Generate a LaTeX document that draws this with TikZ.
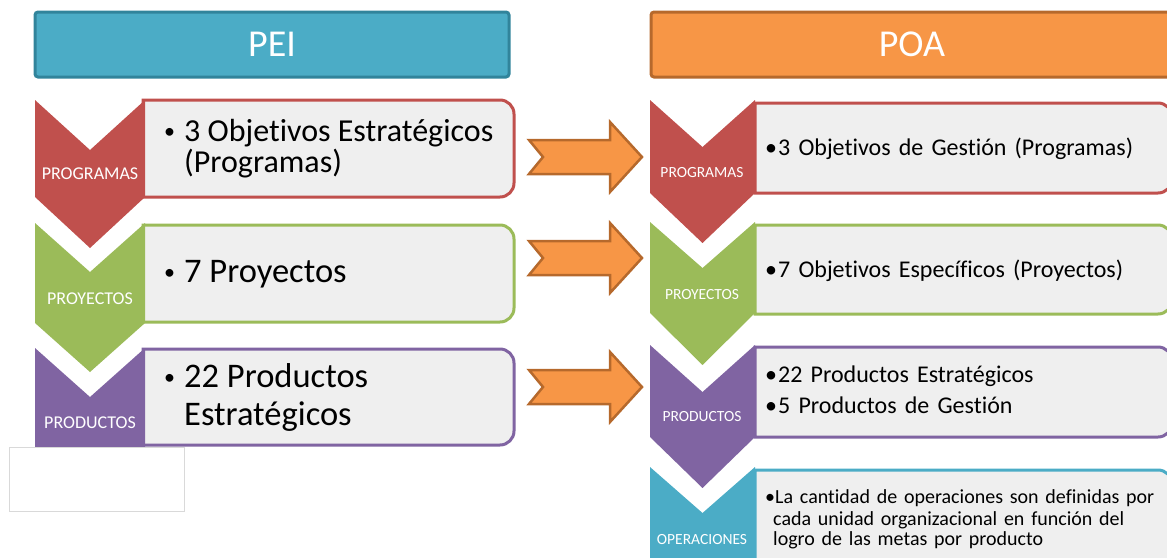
\documentclass[tikz,border=0pt]{standalone}
\usepackage{fontspec}
\setmainfont[Ligatures=NoCommon]{Carlito}
\newfontfamily\rfont[WordSpace=1.5,Ligatures=NoCommon]{Carlito}
\definecolor{peiF}{HTML}{4BACC6}
\definecolor{peiD}{HTML}{31849B}
\definecolor{poaF}{HTML}{F79646}
\definecolor{poaD}{HTML}{B6692C}
\definecolor{cred}{HTML}{C0504D}
\definecolor{cgreen}{HTML}{9BBB59}
\definecolor{cpurple}{HTML}{8064A2}
\definecolor{cblue}{HTML}{4BACC6}
\definecolor{boxF}{HTML}{EFEFEF}
\newcommand\pbox[5]{\draw[boxst, draw=#1] (#2,#3) -- ({#4-14},#3) arc (-90:0:14) -- (#4,{#5-14}) arc (0:90:14) -- (#2,#5) -- cycle;}
\newcommand\pchev[7]{\fill[#1] (#2,#4) -- ({(#2+#3)/2},{#4+#5}) -- (#3,#4) -- (#3,#6) -- ({(#2+#3)/2},{#6+#7}) -- (#2,#6) -- cycle;}
\newcommand\parr[1]{\draw[arrst] (529,{#1-17}) -- (610,{#1-17}) -- (610,{#1-35}) -- (642,#1) -- (610,{#1+35}) -- (610,{#1+17}) -- (529,{#1+17}) -- (543,#1) -- cycle;}
\begin{document}
\begin{tikzpicture}[x=1pt,y=-1pt,
  hdr/.style={line width=3, rounded corners=3, text=white, font=\fontsize{38}{40}\selectfont, inner sep=0},
  boxst/.style={line width=3, fill=boxF},
  arrst/.style={line width=2.5, fill=poaF, draw=poaD, line join=miter},
  labL/.style={text=white, inner sep=0, font=\fontsize{18}{20}\selectfont},
  labR/.style={text=white, inner sep=0, font=\fontsize{15.5}{17}\selectfont},
  txtL/.style={anchor=base west, inner sep=0, text=black, font=\fontsize{34.5}{38}\selectfont},
  txtLs/.style={anchor=base west, inner sep=0, text=black, font=\fontsize{32}{32}\selectfont},
  bulL/.style={anchor=base west, inner sep=0, text=black, font=\fontsize{22}{24}\selectfont},
  txtR/.style={anchor=base west, inner sep=0, text=black, font=\rfont\fontsize{24}{26}\selectfont},
  txtO/.style={anchor=base west, inner sep=0, text=black, font=\rfont\fontsize{20}{22}\selectfont}]
\useasboundingbox (0,0) rectangle (1167,557);
\clip (0,0) rectangle (1167,557);
% headers
\node[hdr, fill=peiF, draw=peiD, minimum width=474, minimum height=65] (pei) at (272,44.5) {PEI};
\node[hdr, fill=poaF, draw=poaD, minimum width=522, minimum height=65] (poa) at (912,44.5) {POA};
% left boxes
\pbox{cred}{143}{100}{514}{197}
\pbox{cgreen}{143}{225}{514}{322}
\pbox{cpurple}{143}{349}{514}{445}
% right boxes
\pbox{cred}{755}{103}{1172}{193}
\pbox{cgreen}{755}{225}{1172}{314}
\pbox{cpurple}{755}{347}{1172}{437}
\pbox{cblue}{755}{470}{1172}{620}
% chevrons
\pchev{cred}{35}{145}{100}{50}{197}{51}
\pchev{cgreen}{35}{145}{223}{49}{323}{49}
\pchev{cpurple}{35}{145}{348}{49}{447}{50}
\pchev{cred}{650}{755}{100}{47}{193}{50}
\pchev{cgreen}{650}{755}{222}{46}{313}{52}
\pchev{cpurple}{650}{755}{345}{47}{437}{51}
\pchev{cblue}{650}{755}{467}{46}{620}{50}
% arrows
\parr{157}
\parr{258}
\parr{387}
% labels
\node[labL] (lpA) at (90,173.5) {PROGRAMAS};
\node[labL] (lpB) at (90,299) {PROYECTOS};
\node[labL] (lpC) at (90,423) {PRODUCTOS};
\node[labR] (rpA) at (702,172.5) {PROGRAMAS};
\node[labR] (rpB) at (702,294.5) {PROYECTOS};
\node[labR] (rpC) at (702,417) {PRODUCTOS};
\node[labR] (rpD) at (702,540) {OPERACIONES};
% left texts
\node[bulL] (b1) at (164,138) {\textbullet};
\node[txtLs] (t1a) at (184,141) {3 Objetivos Estratégicos};
\node[txtLs] (t1b) at (184,172) {(Programas)};
\node[bulL] (b2) at (164,279) {\textbullet};
\node[txtL] (t2a) at (184,282) {7 Proyectos};
\node[bulL] (b3) at (164,384) {\textbullet};
\node[txtL] (t3a) at (184,387) {22 Productos};
\node[txtL] (t3b) at (184,425) {Estratégicos};
% right texts
\node[txtR] (rb1) at (765,155) {\textbullet};
\node[txtR] (r1) at (778,155) {3 Objetivos de Gestión (Programas)};
\node[txtR] (rb2) at (765,277) {\textbullet};
\node[txtR] (r2) at (778,277) {7 Objetivos Específicos (Proyectos)};
\node[txtR] (rb3) at (765,382) {\textbullet};
\node[txtR] (r3a) at (778,382) {22 Productos Estratégicos};
\node[txtR] (rb4) at (765,413) {\textbullet};
\node[txtR] (r3b) at (778,413) {5 Productos de Gestión};
\node[txtO] (rb5) at (765,503) {\textbullet};
\node[txtO] (r4a) at (775,503) {La cantidad de operaciones son definidas por};
\node[txtO] (r4b) at (773,525) {cada unidad organizacional en función del};
\node[txtO] (r4c) at (773,545) {logro de las metas por producto};
% blank box
\node[draw=black!15, fill=white, line width=1, minimum width=175, minimum height=64, inner sep=0] (blank) at (96.5,479) {};
\end{tikzpicture}
\end{document}
